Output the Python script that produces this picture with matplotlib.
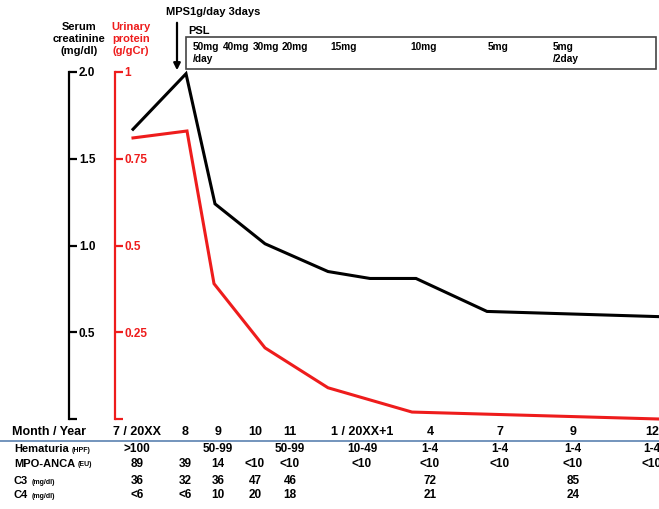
import matplotlib
matplotlib.use("Agg")
import matplotlib.pyplot as plt
from matplotlib.transforms import blended_transform_factory
from matplotlib.patches import Rectangle

plt.rcParams['font.family'] = ['Liberation Sans', 'DejaVu Sans']
plt.rcParams['font.weight'] = 'bold'

RED = '#ee1c1c'

# timeline positions (chart units along the x axis) and values
cr_t = [18, 71, 100, 150, 213, 255, 301, 372, 544]
creatinine = [1.67, 1.99, 1.24, 1.01, 0.85, 0.81, 0.81, 0.62, 0.59]
up_t = [18, 72, 99, 150, 213, 297, 544]
urinary_protein = [0.81, 0.83, 0.39, 0.205, 0.09, 0.02, 0.0]

# prednisolone dose labels
dose_t = [78, 108, 138, 167, 215, 295, 373, 438]
dose_labels = ['50mg\n/day', '40mg', '30mg', '20mg', '15mg', '10mg', '5mg', '5mg\n/2day']
mps_t = 62

# table below the chart
col_t = [22, 70, 103, 140, 175, 247, 315, 385, 458, 537]
months = ['7 / 20XX', '8', '9', '10', '11', '1 / 20XX+1', '4', '7', '9', '12']
hematuria = ['>100', '', '50-99', '', '50-99', '10-49', '1-4', '1-4', '1-4', '1-4']
mpo_anca = ['89', '39', '14', '<10', '<10', '<10', '<10', '<10', '<10', '<10']
c3 = ['36', '32', '36', '47', '46', '', '72', '', '85', '']
c4 = ['<6', '<6', '10', '20', '18', '', '21', '', '24', '']
row_names = ['Hematuria', 'MPO-ANCA', 'C3', 'C4']
row_units = ['(HPF)', '(EU)', '(mg/dl)', '(mg/dl)']

W, H = 659, 509
fig = plt.figure(figsize=(W / 100, H / 100), dpi=100)
rect = [115 / W, (H - 419) / H, (W - 115) / W, (419 - 72) / H]

ax_cr = fig.add_axes(rect)
ax_up = fig.add_axes(rect, sharex=ax_cr)
for a in (ax_cr, ax_up):
    a.set_facecolor('none')
    for s in ('top', 'right', 'bottom'):
        a.spines[s].set_visible(False)
    a.set_xticks([])
ax_cr.set_xlim(0, 544)

# serum creatinine axis
ax_cr.set_ylim(0, 2.0)
ax_cr.spines['left'].set_position(('outward', 33))
ax_cr.spines['left'].set_linewidth(1.6)
ax_cr.set_yticks([0, 0.5, 1.0, 1.5, 2.0])
ax_cr.set_yticklabels(['', '0.5', '1.0', '1.5', '2.0'])
ax_cr.tick_params(axis='y', direction='in', length=6, width=1.6, pad=-7, labelsize=8.5)
for lab in ax_cr.get_yticklabels():
    lab.set_ha('left')
    lab.set_fontweight('bold')

# urinary protein axis
ax_up.set_ylim(0, 1.0)
ax_up.spines['left'].set_color(RED)
ax_up.spines['left'].set_linewidth(1.6)
ax_up.set_yticks([0, 0.25, 0.5, 0.75, 1.0])
ax_up.set_yticklabels(['', '0.25', '0.5', '0.75', '1'])
ax_up.tick_params(axis='y', direction='in', length=6, width=1.6, pad=-7,
                  labelsize=8.5, color=RED, labelcolor=RED)
for lab in ax_up.get_yticklabels():
    lab.set_ha('left')
    lab.set_fontweight('bold')

ax_cr.plot(cr_t, creatinine, color='black', lw=2.2, clip_on=False, solid_joinstyle='miter')
ax_up.plot(up_t, urinary_protein, color=RED, lw=2.2, clip_on=False, solid_joinstyle='miter')

# axis headers
fig.text(79 / W, 1 - 39 / H, 'Serum\ncreatinine\n(mg/dl)', ha='center', va='center',
         fontsize=8, fontweight='bold', linespacing=1.2)
fig.text(131 / W, 1 - 39 / H, 'Urinary\nprotein\n(g/gCr)', ha='center', va='center',
         fontsize=8, fontweight='bold', color=RED, linespacing=1.2)

# treatment annotations
tr = blended_transform_factory(ax_cr.transData, fig.transFigure)
fig.text(166 / W, 1 - 12 / H, 'MPS1g/day 3days', ha='left', va='center',
         fontsize=8, fontweight='bold')
ax_cr.annotate('', xy=(mps_t, 1 - 73 / H), xytext=(mps_t, 1 - 20 / H),
               xycoords=tr, textcoords=tr,
               arrowprops=dict(arrowstyle='-|>', color='black', lw=1.6, mutation_scale=10))
fig.text(188 / W, 1 - 31 / H, 'PSL', ha='left', va='center', fontsize=8, fontweight='bold')
fig.add_artist(Rectangle((186 / W, 1 - 69 / H), (656 - 186) / W, 32 / H,
                         transform=fig.transFigure, fill=False,
                         edgecolor='#444444', lw=1.2))
for t, lab in zip(dose_t, dose_labels):
    ax_cr.text(t, 1 - 42 / H, lab, transform=tr, ha='left', va='top',
               fontsize=7.3, fontweight='bold', linespacing=1.25)

# table
fig.text(12 / W, 1 - 432 / H, 'Month / Year', ha='left', va='center',
         fontsize=9, fontweight='bold')
for t, m in zip(col_t, months):
    ax_cr.text(t, 1 - 432 / H, m, transform=tr, ha='center', va='center',
               fontsize=9, fontweight='bold')
fig.add_artist(plt.Line2D([0, 1], [1 - 441 / H, 1 - 441 / H], transform=fig.transFigure,
                          color='#5b82b0', lw=1.2))

renderer = fig.canvas.get_renderer()
row_y = [449, 464, 481, 495]
for y, name, unit, row in zip(row_y, row_names, row_units, [hematuria, mpo_anca, c3, c4]):
    nt = fig.text(14 / W, 1 - y / H, name, ha='left', va='center',
                  fontsize=8, fontweight='bold')
    bb = nt.get_window_extent(renderer)
    fig.text(bb.x1 / (W) + 3 / W, 1 - (y + 1) / H, unit, ha='left', va='center',
             fontsize=5, fontweight='bold')
    for t, v in zip(col_t, row):
        ax_cr.text(t, 1 - y / H, v, transform=tr, ha='center', va='center',
                   fontsize=8.5, fontweight='bold')

fig.savefig('out.png', dpi=100)
